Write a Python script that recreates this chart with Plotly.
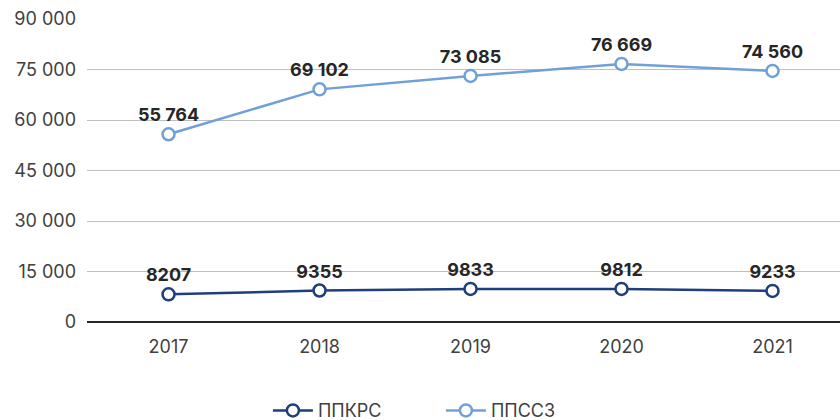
import plotly.graph_objects as go

years = ["2017", "2018", "2019", "2020", "2021"]
ppkrs = [8207, 9355, 9833, 9812, 9233]
ppssz = [55764, 69102, 73085, 76669, 74560]

dark_blue = "#1f3e7c"
light_blue = "#6fa0d8"
font_family = "Inter, Roboto, 'Open Sans', sans-serif"

ppkrs_text = [f"<b>{v}</b>" for v in ppkrs]
ppssz_text = [f"<b>{v:,}</b>".replace(",", " ") for v in ppssz]

fig = go.Figure()
for name, vals, txt, col in [
    ("ППКРС", ppkrs, ppkrs_text, dark_blue),
    ("ППССЗ", ppssz, ppssz_text, light_blue),
]:
    fig.add_trace(go.Scatter(
        x=years, y=vals, name=name, mode="lines+markers+text",
        text=txt, textposition="top center",
        textfont=dict(size=18, color="#262626", family=font_family),
        line=dict(color=col, width=2.5),
        marker=dict(symbol="circle", size=12, color="white",
                    line=dict(color=col, width=2.5)),
        cliponaxis=False,
    ))

fig.update_layout(
    width=840, height=420,
    margin=dict(l=87, r=0, t=19, b=98, autoexpand=False),
    paper_bgcolor="white", plot_bgcolor="white",
    font=dict(family=font_family, size=18, color="#404040"),
    separators=", ",
    showlegend=True,
    legend=dict(orientation="h", x=0.47, xanchor="center",
                yref="container", y=0.022, yanchor="middle",
                font=dict(size=18, color="#404040"), itemwidth=40,
                entrywidth=118, traceorder="normal"),
    xaxis=dict(type="category", range=[-0.54, 4.447], showgrid=False,
               ticks="", showline=False, tickfont=dict(size=18),
               ticklabelstandoff=12),
    yaxis=dict(range=[0, 90000], dtick=15000, tickformat=",d",
               showgrid=True, gridcolor="#bfbfbf", gridwidth=1,
               zeroline=True, zerolinecolor="#262626", zerolinewidth=1.5,
               showline=False, ticks="", ticklen=0, tickfont=dict(size=18),
               ticklabelstandoff=10),
)

fig.write_html("out.html")
